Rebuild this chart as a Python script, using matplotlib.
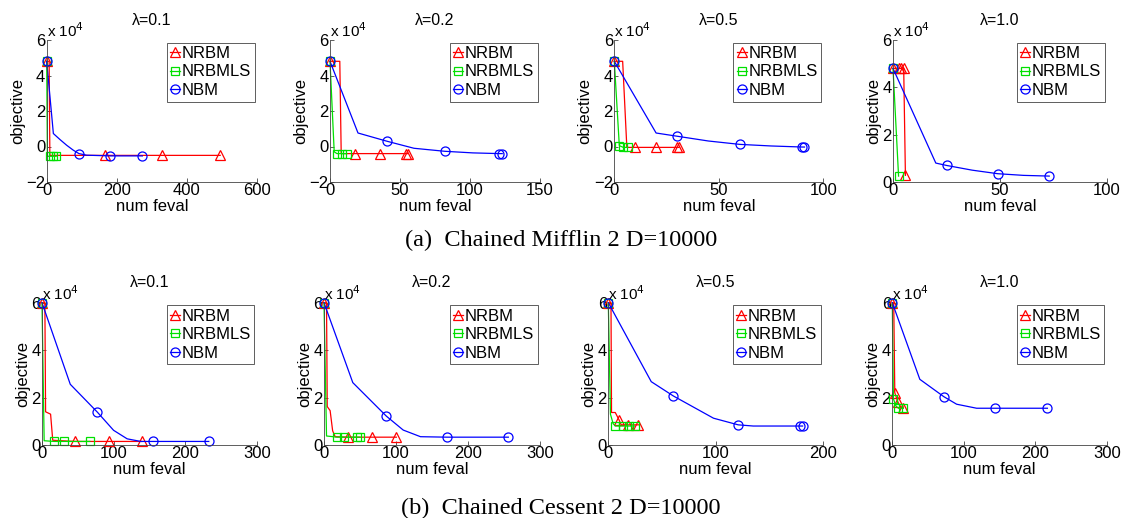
import numpy as np
import matplotlib.pyplot as plt

plt.rcParams['font.family'] = ['Liberation Sans', 'DejaVu Sans']

# objective values are in units of 10^4, x is number of function evaluations
# ---- (a) Chained Mifflin 2 ----
a1_nrbm_x = [0, 7, 9, 165, 330, 495]
a1_nrbm_y = [4.8, 4.8, -0.5, -0.5, -0.5, -0.5]
a1_nrbmls_x = [0, 2, 9, 18, 27]
a1_nrbmls_y = [4.8, -0.55, -0.55, -0.55, -0.55]
a1_nbm_x = [0, 19, 38, 57, 76, 92, 114, 182, 273]
a1_nbm_y = [4.8, 0.73, 0.39, 0.07, -0.21, -0.4, -0.49, -0.53, -0.53]

a2_nrbm_x = [0, 7, 8, 18, 36, 54, 56]
a2_nrbm_y = [4.8, 4.8, -0.4, -0.4, -0.4, -0.4, -0.4]
a2_nrbmls_x = [0, 3, 5, 8.5, 12]
a2_nrbmls_y = [4.8, -0.3, -0.4, -0.4, -0.4]
a2_nbm_x = [0, 20, 41, 60, 82, 102, 121, 123]
a2_nbm_y = [4.8, 0.76, 0.29, -0.1, -0.27, -0.36, -0.4, -0.4]

a3_nrbm_x = [0, 4, 6, 10, 20, 30, 31]
a3_nrbm_y = [4.8, 4.8, -0.05, -0.05, -0.05, -0.05, -0.05]
a3_nrbmls_x = [0, 2.4, 4.3, 6.4]
a3_nrbmls_y = [4.8, 0.05, -0.05, -0.05]
a3_nbm_x = [0, 20, 30, 45, 60, 75, 90, 91]
a3_nbm_y = [4.8, 0.76, 0.58, 0.31, 0.12, 0.03, -0.03, -0.03]

a4_nrbm_x = [0, 2.6, 3.9, 5, 5.8]
a4_nrbm_y = [4.8, 4.8, 4.8, 4.8, 0.28]
a4_nrbmls_x = [0, 2.6]
a4_nrbmls_y = [4.8, 0.25]
a4_nbm_x = [0, 20, 25, 37, 49, 61, 73]
a4_nbm_y = [4.8, 0.8, 0.7, 0.5, 0.35, 0.28, 0.25]

# ---- (b) Chained Cessent 2 ----
b1_nrbm_x = [0, 4, 5, 12, 15, 46.5, 93, 139.5]
b1_nrbm_y = [6, 6, 1.4, 1.3, 0.2, 0.15, 0.15, 0.15]
b1_nrbmls_x = [0, 3, 17, 31, 67]
b1_nrbmls_y = [6, 0.18, 0.15, 0.15, 0.15]
b1_nbm_x = [0, 39.5, 77.5, 100, 119, 138, 155, 233]
b1_nbm_y = [6, 2.56, 1.38, 0.62, 0.26, 0.15, 0.15, 0.15]

b2_nrbm_x = [0, 3.5, 4.5, 8.5, 12, 15.5, 34, 67, 100.5]
b2_nrbm_y = [6, 6, 1.62, 1.45, 0.6, 0.35, 0.33, 0.33, 0.33]
b2_nrbmls_x = [0, 3.5, 18.5, 28, 45.5, 50]
b2_nrbmls_y = [6, 0.38, 0.33, 0.33, 0.33, 0.33]
b2_nbm_x = [0, 40, 86.5, 110, 134, 171, 256]
b2_nbm_y = [6, 2.63, 1.22, 0.63, 0.35, 0.33, 0.33]

b3_nrbm_x = [0, 2.5, 3, 6.5, 10, 12, 18.5, 28]
b3_nrbm_y = [6, 6, 1.37, 1.37, 1.06, 0.85, 0.85, 0.85]
b3_nrbmls_x = [0, 2, 4.5, 6.5, 13.5, 19.5, 24.5]
b3_nrbmls_y = [6, 1.3, 0.9, 0.8, 0.8, 0.8, 0.8]
b3_nbm_x = [0, 40, 60.5, 98, 121, 135, 179, 181]
b3_nbm_y = [6, 2.67, 2.07, 1.13, 0.85, 0.8, 0.8, 0.8]

b4_nrbm_x = [0, 2, 3.5, 8, 12, 15]
b4_nrbm_y = [6, 6, 2.2, 1.8, 1.6, 1.55]
b4_nrbmls_x = [0, 1.5, 5, 8.5, 15.5]
b4_nrbmls_y = [6, 1.95, 1.65, 1.55, 1.55]
b4_nbm_x = [0, 38.5, 72, 90, 118, 144, 217]
b4_nbm_y = [6, 2.77, 2.04, 1.72, 1.55, 1.55, 1.55]

lambdas = ['0.1', '0.2', '0.5', '1.0']
methods = ['NRBM', 'NRBMLS', 'NBM']

panels_a = [
    [(a1_nrbm_x, a1_nrbm_y), (a1_nrbmls_x, a1_nrbmls_y), (a1_nbm_x, a1_nbm_y)],
    [(a2_nrbm_x, a2_nrbm_y), (a2_nrbmls_x, a2_nrbmls_y), (a2_nbm_x, a2_nbm_y)],
    [(a3_nrbm_x, a3_nrbm_y), (a3_nrbmls_x, a3_nrbmls_y), (a3_nbm_x, a3_nbm_y)],
    [(a4_nrbm_x, a4_nrbm_y), (a4_nrbmls_x, a4_nrbmls_y), (a4_nbm_x, a4_nbm_y)],
]
panels_b = [
    [(b1_nrbm_x, b1_nrbm_y), (b1_nrbmls_x, b1_nrbmls_y), (b1_nbm_x, b1_nbm_y)],
    [(b2_nrbm_x, b2_nrbm_y), (b2_nrbmls_x, b2_nrbmls_y), (b2_nbm_x, b2_nbm_y)],
    [(b3_nrbm_x, b3_nrbm_y), (b3_nrbmls_x, b3_nrbmls_y), (b3_nbm_x, b3_nbm_y)],
    [(b4_nrbm_x, b4_nrbm_y), (b4_nrbmls_x, b4_nrbmls_y), (b4_nbm_x, b4_nbm_y)],
]

# --- styling below ---
# which vertices carry a marker (sampled iterates)
marks_a = [
    [[0, 3, 4, 5], [0, 2, 3, 4], [0, 5, 7, 8]],
    [[0, 3, 4, 5, 6], [0, 2, 3, 4], [0, 2, 4, 6, 7]],
    [[0, 3, 4, 5, 6], [0, 1, 2, 3], [0, 2, 4, 6, 7]],
    [[0, 1, 2, 3, 4], [0, 1], [0, 2, 4, 6]],
]
marks_b = [
    [[0, 5, 6, 7], [0, 2, 3, 4], [0, 2, 6, 7]],
    [[0, 6, 7, 8], [0, 2, 3, 4, 5], [0, 2, 5, 6]],
    [[0, 4, 6, 7], [0, 3, 4, 5, 6], [0, 2, 4, 6, 7]],
    [[0, 2, 3, 5], [0, 1, 3, 4], [0, 2, 5, 6]],
]
colors = ['#ff0000', '#00e000', '#0000ff']
markers = ['^', 's', 'o']
msizes = [7, 5.5, 6.5]

xlims_a = [600, 150, 100, 100]
xticks_a = [[0, 200, 400, 600], [0, 50, 100, 150], [0, 50, 100], [0, 50, 100]]
ylims_a = [(-2, 6), (-2, 6), (-2, 6), (0, 6)]
xlims_b = [300, 300, 200, 300]
xticks_b = [[0, 100, 200, 300], [0, 100, 200, 300], [0, 100, 200], [0, 100, 200, 300]]

W, H = 1122, 518
fig = plt.figure(figsize=(W / 100, H / 100), dpi=100)

lefts_a = [46.7, 330, 614.3, 893]
rights_a = [257, 540, 823.3, 1107]
lefts_b = [42, 324, 608.3, 892.3]
rights_b = [256.7, 540, 823, 1106.7]

FS = 12


def draw_row(panels, marks, lefts, rights, top_px, bot_px, xlims, xticks, ylims):
    for i in range(4):
        ax = fig.add_axes([lefts[i] / W, 1 - bot_px / H,
                           (rights[i] - lefts[i]) / W, (bot_px - top_px) / H])
        for j, (x, y) in enumerate(panels[i]):
            ax.plot(x, y, color=colors[j], lw=0.9, marker=markers[j],
                    markevery=marks[i][j], ms=msizes[j], mfc='none', mec=colors[j],
                    mew=0.9, label=methods[j], clip_on=False)
        ax.set_xlim(0, xlims[i])
        ax.set_xticks(xticks[i])
        ax.set_ylim(*ylims[i])
        yt = np.arange(ylims[i][0], 7, 2)
        ax.set_yticks(yt)
        ax.set_yticklabels([str(v).replace('-', '\u2212') for v in yt])
        for s in ['top', 'right']:
            ax.spines[s].set_visible(False)
        for s in ['left', 'bottom']:
            ax.spines[s].set_color('#444444')
            ax.spines[s].set_linewidth(0.6)
        ax.tick_params(direction='in', length=3, width=0.6, labelsize=FS,
                       pad=1, color='#444444')
        ax.set_xlabel('num feval', fontsize=FS, labelpad=0.5)
        ax.set_ylabel('objective', fontsize=FS, labelpad=1)
        ax.set_title('\u03bb=' + lambdas[i], fontsize=11.5, pad=11)
        ax.text(0.0, 1.0, 'x 10$^{4}$', transform=ax.transAxes, fontsize=11,
                ha='left', va='bottom')
        leg = ax.legend(loc='upper right', fontsize=FS, handlelength=0.6,
                        handletextpad=0.1, labelspacing=0.22, borderpad=0.2,
                        borderaxespad=0.15, fancybox=False, framealpha=1)
        leg.get_frame().set_edgecolor('#444444')
        leg.get_frame().set_linewidth(0.6)


draw_row(panels_a, marks_a, lefts_a, rights_a, 40, 182, xlims_a, xticks_a, ylims_a)
draw_row(panels_b, marks_b, lefts_b, rights_b, 302.7, 445, xlims_b, xticks_b,
         [(0, 6)] * 4)

fig.text(0.5, 1 - 240 / H, '(a)  Chained Mifflin 2 D=10000', ha='center',
         va='center', fontsize=17.5, family='Liberation Serif')
fig.text(0.5, 1 - 508 / H, '(b)  Chained Cessent 2 D=10000', ha='center',
         va='center', fontsize=17.5, family='Liberation Serif')

fig.savefig('out.png', dpi=100)
